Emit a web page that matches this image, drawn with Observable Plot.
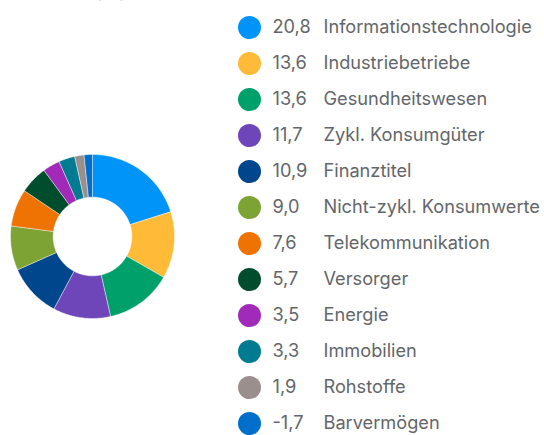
<!DOCTYPE html>
<html>
<head>
<meta charset="utf-8">
<script src="https://cdn.jsdelivr.net/npm/d3@7"></script>
<script src="https://cdn.jsdelivr.net/npm/@observablehq/plot@0.6"></script>
<style>
  html, body { margin: 0; padding: 0; background: #fff; }
  #wrap { position: relative; width: 544px; height: 435px; overflow: hidden; font-family: Inter, "Open Sans", sans-serif; }
  #pie { position: absolute; left: 0; top: 0; }
  #legend { position: absolute; left: 230px; top: 0; }
  #title { position: absolute; right: 418px; top: -16px; font-size: 18px; line-height: 18px; color: #63666a; white-space: nowrap; }
</style>
</head>
<body>
<div id="wrap">
  <div id="title">Sektoren (%)</div>
  <div id="pie"></div>
  <div id="legend"></div>
</div>
<script>
const sectors = ["Informationstechnologie","Industriebetriebe","Gesundheitswesen","Zykl. Konsumgüter","Finanztitel","Nicht-zykl. Konsumwerte","Telekommunikation","Versorger","Energie","Immobilien","Rohstoffe","Barvermögen"];
const values = [20.8, 13.6, 13.6, 11.7, 10.9, 9.0, 7.6, 5.7, 3.5, 3.3, 1.9, -1.7];
const colors = ["#0094f8","#ffbb38","#00a06b","#6f46b9","#00468c","#7da334","#ee7302","#004d2e","#a22ab8","#007b91","#9b8f8d","#006fcb"];

const data = sectors.map((name, i) => ({name, value: values[i], color: colors[i]}));

// slice geometry from d3.pie (absolute values as slice sizes)
const arcs = d3.pie().sort(null).value(d => Math.abs(d.value)).startAngle(0).endAngle(2 * Math.PI)(data);
const innerR = 0.48;
const pts = [];
for (const a of arcs) {
  const n = Math.max(2, Math.ceil((a.endAngle - a.startAngle) / (Math.PI / 180)));
  const ring = [];
  for (let k = 0; k <= n; k++) {
    const t = a.startAngle + (a.endAngle - a.startAngle) * k / n;
    ring.push({x: Math.sin(t), y: Math.cos(t)});
  }
  for (let k = n; k >= 0; k--) {
    const t = a.startAngle + (a.endAngle - a.startAngle) * k / n;
    ring.push({x: innerR * Math.sin(t), y: innerR * Math.cos(t)});
  }
  ring.push(ring[0]);
  for (const p of ring) pts.push({...p, name: a.data.name, color: a.data.color});
}

const pie = Plot.plot({
  width: 190, height: 435,
  margin: 0,
  x: {domain: [-1, 1], range: [10, 174], axis: null},
  y: {domain: [-1, 1], range: [318, 154], axis: null},
  color: {type: "identity"},
  marks: [
    Plot.line(pts, {x: "x", y: "y", z: "name", fill: "color", stroke: "#ffffff", strokeWidth: 0.6, strokeOpacity: 0.7, curve: "linear"})
  ]
});
document.getElementById("pie").appendChild(pie);

const fmt = v => v.toFixed(1).replace(".", ",");

const legend = Plot.plot({
  width: 314, height: 435,
  margin: 0,
  y: {type: "point", domain: sectors, range: [22, 427], padding: 0, axis: null},
  color: {type: "identity"},
  style: {fontFamily: "Inter, 'Open Sans', sans-serif"},
  marks: [
    Plot.dot(data, {y: "name", fill: "color", r: 11.5, frameAnchor: "left", dx: 19}),
    Plot.text(data, {y: "name", text: d => fmt(d.value), frameAnchor: "left", dx: 42, textAnchor: "start", fill: "#63666a", fontSize: 18.2}),
    Plot.text(data, {y: "name", text: "name", frameAnchor: "left", dx: 93, textAnchor: "start", fill: "#63666a", fontSize: 18.2})
  ]
});
document.getElementById("legend").appendChild(legend);
</script>
</body>
</html>
